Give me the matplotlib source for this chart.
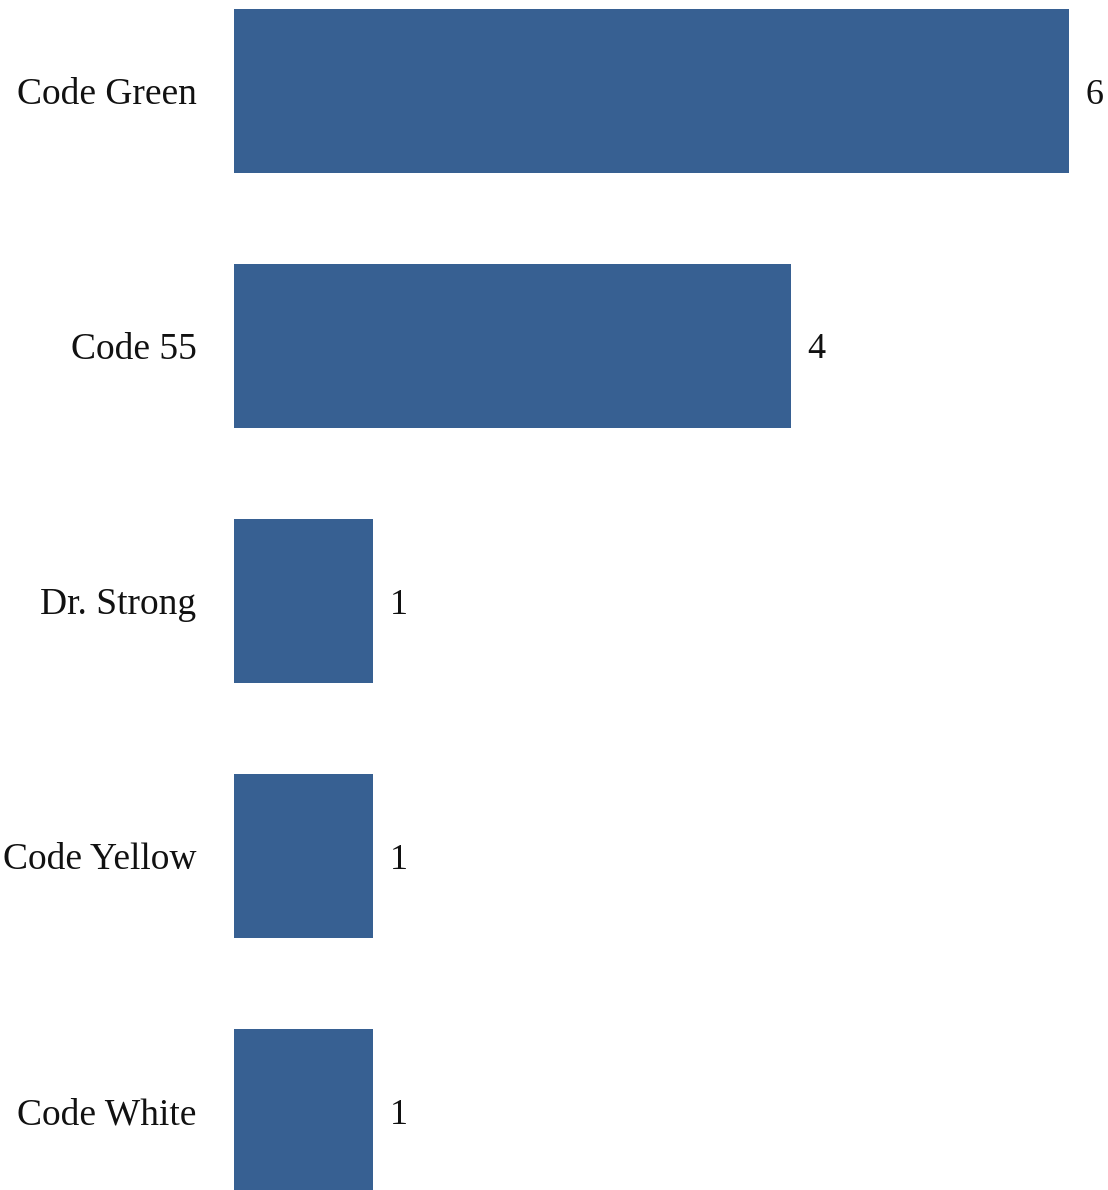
import matplotlib
matplotlib.use("Agg")
import matplotlib.pyplot as plt

# data
names = ["Code Green", "Code 55", "Dr. Strong", "Code Yellow", "Code White"]
counts = [6, 4, 1, 1, 1]

bar_color = "#376092"

plt.rcParams['font.family'] = ['Liberation Serif', 'DejaVu Serif']

fig = plt.figure(figsize=(11.08, 11.9), dpi=100)
ax = fig.add_axes([234 / 1108, 0, 835 / 1108, 1])

ypos = list(range(len(names)))
ax.barh(ypos, counts, height=0.643, color=bar_color)

ax.set_xlim(0, 6)
ax.set_ylim((1190 - 91) / 255, -91 / 255)

for y, v in zip(ypos, counts):
    ax.annotate(str(v), (v, y), xytext=(12, 0), textcoords="offset points",
                ha="left", va="center_baseline", fontsize=26, color="#111111")

ax.set_yticks(ypos)
ax.set_yticklabels(names, fontsize=27, color="#111111")
ax.tick_params(axis="y", length=0, pad=27)
ax.set_xticks([])
for s in ax.spines.values():
    s.set_visible(False)

fig.savefig("out.png", dpi=100)
